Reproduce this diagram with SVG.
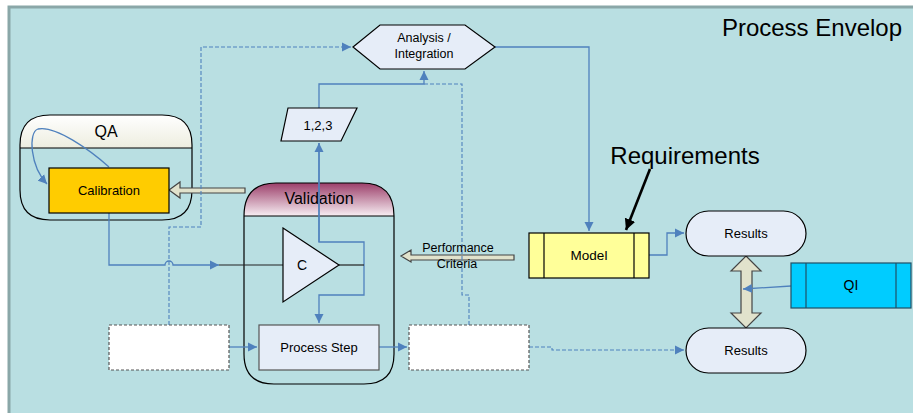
<svg xmlns="http://www.w3.org/2000/svg" width="913" height="413" viewBox="0 0 913 413">
  <defs>
    <style>
      .lbl { font-family: "Liberation Sans", Arial, sans-serif; fill: #000; text-anchor: middle; }
      .node { stroke: #000; stroke-width: 1.2; }
      .flow { fill: none; stroke: #4f81bd; stroke-width: 1.3; }
      .dash { fill: none; stroke: #4f81bd; stroke-width: 1.1; stroke-dasharray: 4 2; }
      .wire { fill: none; stroke: #222; stroke-width: 1.2; }
      .blank { fill: #fff; stroke: #555; stroke-width: 1.2; stroke-dasharray: 3 2; }
      .fat { fill: #e1e2cc; stroke: #444; stroke-width: 1.2; }
    </style>
    <marker id="ah" markerWidth="10" markerHeight="10" refX="9" refY="5" orient="auto" markerUnits="userSpaceOnUse">
      <path d="M0,0.5 L9,5 L0,9.5 Z" fill="#4f81bd"/>
    </marker>
    <marker id="ahk" markerWidth="12" markerHeight="12" refX="11" refY="6" orient="auto" markerUnits="userSpaceOnUse">
      <path d="M0,0.5 L11,6 L0,11.5 Z" fill="#000"/>
    </marker>
    <linearGradient id="valHead" x1="0" y1="0" x2="0" y2="1">
      <stop offset="0" stop-color="#9c3f6a"/>
      <stop offset="1" stop-color="#f7eef3"/>
    </linearGradient>
    <linearGradient id="qaHead" x1="0" y1="0" x2="0" y2="1">
      <stop offset="0" stop-color="#ffffff"/>
      <stop offset="1" stop-color="#ededdf"/>
    </linearGradient>
  </defs>

  <!-- envelope -->
  <g id="envelope">
    <rect x="0" y="0" width="913" height="413" fill="#ffffff"/>
    <rect x="9" y="7" width="910" height="412" fill="#b9dfe2" stroke="#8aa7a8" stroke-width="3"/>
    <text class="lbl" x="902" y="36" font-size="24" style="text-anchor:end">Process Envelop</text>
  </g>

  <!-- containers -->
  <g id="qa">
    <path d="M20,148 V145 Q20,115 50,115 H162 Q192,115 192,145 V148 Z" fill="url(#qaHead)"/>
    <path d="M20,148 V145 Q20,115 50,115 H162 Q192,115 192,145 V190 Q192,220 162,220 H50 Q20,220 20,190 Z" fill="none" stroke="#000" stroke-width="1.2"/>
    <line x1="20" y1="148" x2="192" y2="148" stroke="#000" stroke-width="1.2"/>
    <text class="lbl" x="106" y="137" font-size="16">QA</text>
  </g>

  <g id="validation">
    <path d="M244,216 Q244,183 276,183 H362 Q394,183 394,216 Z" fill="url(#valHead)"/>
    <path d="M244,216 Q244,183 276,183 H362 Q394,183 394,216 V354 Q394,384 364,384 H274 Q244,384 244,354 Z" fill="none" stroke="#000" stroke-width="1.2"/>
    <line x1="244" y1="216" x2="394" y2="216" stroke="#000" stroke-width="1.2"/>
    <text class="lbl" x="319" y="204" font-size="16">Validation</text>
  </g>

  <!-- connectors -->
  <g id="connectors">
    <!-- block arrows -->
    <path class="fat" d="M245,188 H180 V182 L169,190 L180,198 V193 H245 Z"/>
    <path class="fat" d="M514,255 H411 V250 L401,256 L411,262 V260 H514 Z"/>
    <path class="fat" d="M746,256 L761,271 H752 V313 H761 L746,328 L731,313 H741 V271 H731 Z"/>
    <!-- dashed feedback to analysis -->
    <path class="dash" d="M169,325 V227 H201 V47 H351" marker-end="url(#ah)"/>
    <path class="dash" d="M469,325 V295 H462 V84 H424"/>
    <!-- analysis to model -->
    <path class="flow" d="M495,47 H589 V231" marker-end="url(#ah)"/>
    <!-- 1,2,3 to analysis -->
    <path class="flow" d="M319,108 V84 H424 V71" marker-end="url(#ah)"/>
    <!-- comparator outputs -->
    <path class="flow" d="M319,143 V242 H364 V295 H319 V323" marker-end="url(#ah)"/>
    <path class="flow" d="M319,242 V143" marker-end="url(#ah)"/>
    <!-- calibration to comparator, hopping over dashed line -->
    <path class="flow" d="M109,213 V265 H165 A4,4 0 0 1 173,265 H219" marker-end="url(#ah)"/>
    <path class="wire" d="M219,265 H283"/>
    <path class="wire" d="M339,265 H364"/>
    <!-- calibration self loop -->
    <path class="flow" d="M109,167 C90,150 55,125 38,129 C28,132 30,166 47,184" marker-end="url(#ah)"/>
    <!-- process chain -->
    <path class="flow" d="M229,347 H257" marker-end="url(#ah)"/>
    <path class="flow" d="M379,347 H407" marker-end="url(#ah)"/>
    <path class="dash" d="M529,347 H552 V350 H684" marker-end="url(#ah)"/>
    <!-- model to results -->
    <path class="flow" d="M649,255 H667 V233 H684" marker-end="url(#ah)"/>
    <!-- QI to double arrow -->
    <path class="flow" d="M791,286 L743,289" marker-end="url(#ah)"/>
    <!-- requirements pointer -->
    <path d="M650,169 L626,230" fill="none" stroke="#000" stroke-width="2.6" marker-end="url(#ahk)"/>
  </g>

  <g id="analysis">
    <path class="node" fill="#e6edf8" d="M353,47 L380,25 H465 L495,47 L465,69 H380 Z"/>
    <text class="lbl" x="424" y="42" font-size="12.5">Analysis /</text>
    <text class="lbl" x="424" y="58" font-size="12.5">Integration</text>
  </g>

  <g id="data123">
    <path class="node" fill="#e6edf8" d="M288,108 H357 L341,141 H281 Z"/>
    <text class="lbl" x="318" y="130" font-size="13">1,2,3</text>
  </g>

  <g id="calibration">
    <rect class="node" x="49" y="168" width="120" height="45" fill="#ffcc00"/>
    <text class="lbl" x="109" y="195" font-size="13">Calibration</text>
  </g>

  <g id="comparator">
    <path class="node" fill="#e6edf8" d="M283,228 L339,265 L283,302 Z"/>
    <text class="lbl" x="302" y="270" font-size="14">C</text>
  </g>

  <g id="input">
    <rect class="blank" x="109" y="325" width="120" height="45"/>
  </g>

  <g id="process-step">
    <rect x="259" y="325" width="120" height="45" fill="#e6edf8" stroke="#555" stroke-width="1.2"/>
    <text class="lbl" x="319" y="352" font-size="13">Process Step</text>
  </g>

  <g id="output">
    <rect class="blank" x="409" y="325" width="120" height="45"/>
  </g>

  <g id="performance-criteria">
    <text class="lbl" x="458" y="252" font-size="12.5">Performance</text>
    <text class="lbl" x="457" y="268" font-size="12.5">Criteria</text>
  </g>

  <g id="model">
    <rect class="node" x="529" y="233" width="120" height="45" fill="#ffff99"/>
    <line x1="544" y1="233" x2="544" y2="278" stroke="#000" stroke-width="1.2"/>
    <line x1="634" y1="233" x2="634" y2="278" stroke="#000" stroke-width="1.2"/>
    <text class="lbl" x="589" y="260" font-size="13.5">Model</text>
  </g>

  <g id="requirements">
    <text class="lbl" x="685" y="164" font-size="24">Requirements</text>
  </g>

  <g id="results-top">
    <rect class="node" x="686" y="211" width="120" height="45" rx="22.5" fill="#e6edf8"/>
    <text class="lbl" x="746" y="238" font-size="13">Results</text>
  </g>

  <g id="results-bottom">
    <rect class="node" x="686" y="328" width="120" height="45" rx="22.5" fill="#e6edf8"/>
    <text class="lbl" x="746" y="355" font-size="13">Results</text>
  </g>

  <g id="qi">
    <rect x="791" y="263" width="120" height="45" fill="#00ccff" stroke="#1f4f66" stroke-width="1.2"/>
    <line x1="806" y1="263" x2="806" y2="308" stroke="#1f4f66" stroke-width="1.2"/>
    <line x1="896" y1="263" x2="896" y2="308" stroke="#1f4f66" stroke-width="1.2"/>
    <text class="lbl" x="851" y="290" font-size="14">QI</text>
  </g>
</svg>
